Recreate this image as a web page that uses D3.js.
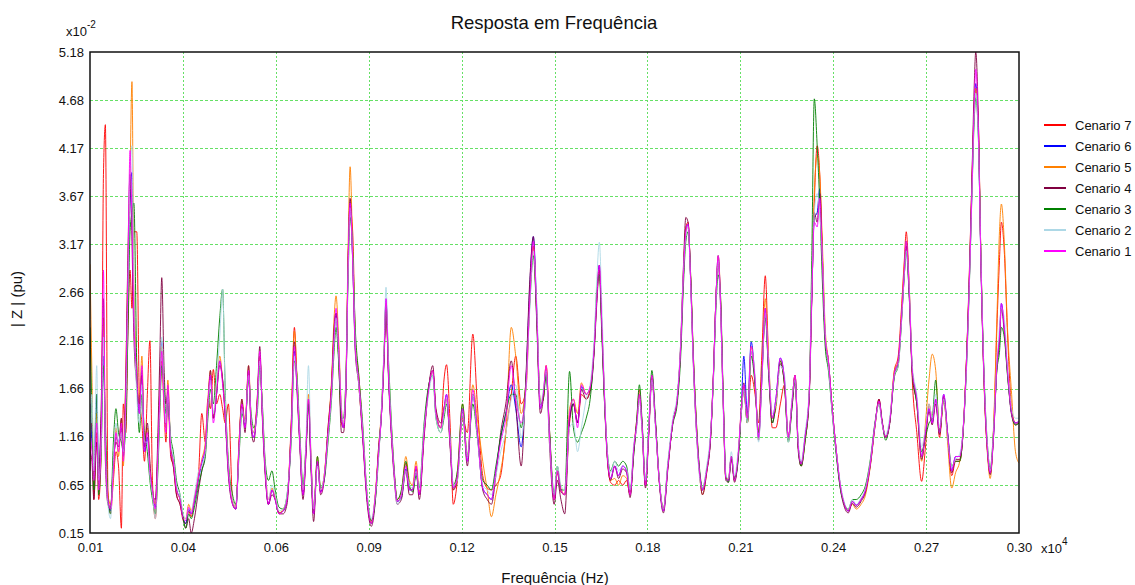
<!DOCTYPE html>
<html>
<head>
<meta charset="utf-8">
<script src="https://cdn.jsdelivr.net/npm/d3@7"></script>
<style>
  html, body { margin: 0; padding: 0; background: #ffffff; }
  svg { display: block; font-family: "Liberation Sans", Arial, sans-serif; }
</style>
</head>
<body>
<svg id="chart" width="1135" height="585"></svg>
<script>
// Frequency axis values (x10^4 Hz)
const freq = [
  0.0100, 0.0106, 0.0112, 0.0121, 0.0127, 0.0135, 0.0142, 0.0148, 0.0156, 0.0164,
  0.0173, 0.0181, 0.0189, 0.0198, 0.0204, 0.0212, 0.0218, 0.0225, 0.0231, 0.0237,
  0.0246, 0.0254, 0.0262, 0.0270, 0.0279, 0.0287, 0.0295, 0.0304, 0.0312, 0.0318,
  0.0324, 0.0331, 0.0337, 0.0343, 0.0352, 0.0360, 0.0370, 0.0381, 0.0391, 0.0399,
  0.0408, 0.0416, 0.0426, 0.0439, 0.0449, 0.0460, 0.0468, 0.0476, 0.0485, 0.0495,
  0.0505, 0.0514, 0.0522, 0.0532, 0.0545, 0.0555, 0.0566, 0.0574, 0.0584, 0.0595,
  0.0603, 0.0611, 0.0622, 0.0630, 0.0638, 0.0647, 0.0657, 0.0668, 0.0678, 0.0690,
  0.0703, 0.0715, 0.0728, 0.0738, 0.0746, 0.0755, 0.0765, 0.0774, 0.0782, 0.0790,
  0.0798, 0.0810, 0.0820, 0.0831, 0.0843, 0.0854, 0.0862, 0.0868, 0.0876, 0.0885,
  0.0891, 0.0899, 0.0906, 0.0912, 0.0920, 0.0928, 0.0939, 0.0951, 0.0964, 0.0978,
  0.0991, 0.1001, 0.1010, 0.1018, 0.1024, 0.1032, 0.1041, 0.1049, 0.1059, 0.1072,
  0.1086, 0.1097, 0.1107, 0.1118, 0.1128, 0.1143, 0.1155, 0.1170, 0.1180, 0.1195,
  0.1205, 0.1213, 0.1224, 0.1234, 0.1247, 0.1263, 0.1278, 0.1295, 0.1309, 0.1326,
  0.1340, 0.1353, 0.1367, 0.1382, 0.1398, 0.1415, 0.1429, 0.1446, 0.1461, 0.1473,
  0.1484, 0.1494, 0.1506, 0.1515, 0.1524, 0.1534, 0.1549, 0.1559, 0.1570, 0.1582,
  0.1597, 0.1609, 0.1622, 0.1634, 0.1649, 0.1663, 0.1674, 0.1682, 0.1690, 0.1698,
  0.1707, 0.1715, 0.1725, 0.1738, 0.1750, 0.1763, 0.1775, 0.1786, 0.1798, 0.1807,
  0.1815, 0.1823, 0.1834, 0.1844, 0.1854, 0.1865, 0.1877, 0.1890, 0.1904, 0.1919,
  0.1933, 0.1944, 0.1952, 0.1960, 0.1967, 0.1975, 0.1983, 0.1994, 0.2004, 0.2012,
  0.2025, 0.2037, 0.2046, 0.2054, 0.2061, 0.2068, 0.2077, 0.2085, 0.2093, 0.2102,
  0.2112, 0.2123, 0.2133, 0.2141, 0.2152, 0.2164, 0.2176, 0.2187, 0.2197, 0.2208,
  0.2218, 0.2230, 0.2241, 0.2255, 0.2268, 0.2280, 0.2291, 0.2301, 0.2311, 0.2320,
  0.2332, 0.2345, 0.2353, 0.2361, 0.2370, 0.2378, 0.2386, 0.2395, 0.2405, 0.2417,
  0.2430, 0.2442, 0.2455, 0.2467, 0.2480, 0.2492, 0.2507, 0.2521, 0.2536, 0.2551,
  0.2563, 0.2573, 0.2584, 0.2596, 0.2611, 0.2623, 0.2634, 0.2642, 0.2648, 0.2657,
  0.2667, 0.2681, 0.2696, 0.2708, 0.2719, 0.2729, 0.2740, 0.2752, 0.2765, 0.2777,
  0.2790, 0.2802, 0.2815, 0.2827, 0.2837, 0.2846, 0.2854, 0.2860, 0.2865, 0.2873,
  0.2881, 0.2891, 0.2902, 0.2910, 0.2921, 0.2931, 0.2939, 0.2945, 0.2954, 0.2964,
  0.2977, 0.2989, 0.3000
];

// |Z| per scenario (x10^-2 pu)
const cenario7 = [
  0.8, 1.3, 0.5, 1.2, 0.5, 1.0, 3.9, 4.42, 0.6, 0.35,
  0.7, 1.0, 0.85, 0.2, 1.5, 1.2, 2.2, 2.9, 2.5, 3.3,
  3.3, 1.6, 1.3, 0.9, 1.6, 2.16, 0.7, 0.3, 0.9, 1.5,
  1.95, 1.45, 1.1, 1.6, 0.95, 0.85, 0.55, 0.45, 0.28, 0.25,
  0.38, 0.32, 0.5, 0.78, 1.4, 1.1, 1.55, 1.45, 1.86, 1.5,
  1.6, 1.45, 1.3, 1.5, 0.5, 0.42, 1.15, 1.5, 1.3, 1.8,
  1.3, 1.2, 1.5, 2.0, 1.4, 0.8, 0.45, 0.6, 0.52, 0.36,
  0.38, 0.5, 1.3, 2.3, 1.75, 1.1, 0.55, 1.0, 1.55, 0.9,
  0.36, 0.9, 0.58, 0.75, 1.2, 1.7, 2.25, 2.45, 2.0, 1.3,
  1.25, 1.7, 3.05, 3.55, 3.3, 2.2, 1.7, 1.2, 0.55, 0.25,
  0.55, 1.0, 1.4, 2.0, 2.5, 1.8, 1.2, 0.8, 0.48, 0.55,
  0.88, 0.62, 0.6, 0.85, 0.55, 1.2, 1.6, 1.85, 1.4, 1.25,
  1.75, 1.91, 1.3, 0.45, 0.7, 1.35, 1.2, 2.23, 1.5, 0.75,
  0.62, 0.6, 0.65, 0.75, 1.2, 1.6, 2.0, 1.5, 1.65, 2.6,
  3.15, 2.5, 1.5, 1.55, 1.9, 1.25, 0.5, 0.78, 0.58, 0.55,
  1.3, 1.5, 1.3, 1.6, 1.55, 1.7, 2.1, 2.65, 2.95, 2.3,
  1.5, 0.95, 0.68, 0.65, 0.7, 0.65, 0.7, 0.55, 1.05, 1.35,
  1.65, 1.3, 0.65, 1.2, 1.78, 1.3, 0.7, 0.4, 0.85, 1.3,
  1.55, 2.1, 2.85, 3.35, 3.4, 2.8, 2.0, 1.2, 0.75, 0.6,
  0.8, 1.15, 1.8, 2.6, 3.0, 2.6, 1.5, 0.72, 0.7, 0.95,
  0.7, 0.95, 1.4, 1.65, 1.3, 1.8, 1.6, 1.3, 2.0, 2.84,
  2.0, 1.25, 1.25, 1.5, 1.7, 1.15, 1.5, 1.8, 1.05, 0.87,
  1.15, 1.6, 2.6, 3.6, 4.2, 3.9, 3.1, 2.2, 1.95, 1.45,
  1.0, 0.65, 0.45, 0.38, 0.48, 0.44, 0.5, 0.6, 0.88, 1.3,
  1.55, 1.3, 1.15, 1.3, 1.85, 2.0, 2.55, 3.0, 3.3, 2.75,
  1.75, 1.2, 0.69, 1.05, 1.5, 1.35, 1.55, 1.15, 1.55, 1.15,
  0.75, 0.9, 0.9, 1.3, 2.05, 3.0, 3.95, 4.6, 4.8, 4.45,
  3.05, 1.75, 1.0, 0.78, 1.25, 2.3, 3.0, 3.4, 3.1, 2.25,
  1.45, 1.3, 1.3
];
const cenario6 = [
  1.5, 1.1, 0.9, 1.6, 0.75, 1.3, 2.0, 1.1, 0.5, 0.38,
  0.85, 1.15, 1.1, 1.25, 0.95, 1.6, 2.7, 3.6, 3.92, 2.5,
  1.75, 1.4, 1.85, 1.0, 1.15, 0.8, 0.6, 0.42, 1.0, 1.65,
  2.15, 1.6, 1.25, 1.65, 1.05, 0.92, 0.62, 0.5, 0.3, 0.25,
  0.4, 0.35, 0.48, 0.72, 0.88, 1.05, 1.5, 1.8, 1.35, 1.6,
  1.95, 1.75, 1.4, 0.8, 0.46, 0.4, 1.1, 1.5, 1.25, 1.85,
  1.3, 1.15, 1.5, 2.0, 1.4, 0.8, 0.45, 0.6, 0.5, 0.36,
  0.38, 0.5, 1.2, 2.05, 1.7, 1.1, 0.55, 1.0, 1.55, 0.9,
  0.35, 0.9, 0.58, 0.72, 1.2, 1.65, 2.2, 2.45, 2.1, 1.4,
  1.25, 1.7, 3.0, 3.6, 3.0, 2.1, 1.75, 1.2, 0.55, 0.25,
  0.55, 1.0, 1.4, 2.0, 2.6, 1.8, 1.2, 0.8, 0.48, 0.52,
  0.82, 0.6, 0.6, 0.82, 0.55, 1.2, 1.62, 1.85, 1.4, 1.25,
  1.45, 1.6, 1.1, 0.62, 0.75, 1.45, 0.9, 1.6, 1.2, 0.62,
  0.55, 0.5, 0.8, 1.15, 1.4, 1.7, 1.45, 1.05, 1.75, 2.75,
  3.25, 2.55, 1.45, 1.6, 1.85, 1.2, 0.5, 0.8, 0.6, 0.55,
  1.35, 1.5, 1.3, 1.68, 1.6, 1.7, 2.1, 2.6, 2.95, 2.3,
  1.5, 0.95, 0.72, 0.85, 0.75, 0.85, 0.8, 0.55, 1.05, 1.3,
  1.6, 1.3, 0.65, 1.2, 1.8, 1.3, 0.7, 0.38, 0.85, 1.3,
  1.55, 2.1, 2.8, 3.3, 3.38, 2.8, 2.0, 1.2, 0.75, 0.6,
  0.8, 1.15, 1.8, 2.6, 3.05, 2.6, 1.5, 0.72, 0.7, 0.95,
  0.7, 0.95, 1.45, 2.0, 1.4, 2.15, 1.75, 1.15, 1.75, 2.5,
  1.9, 1.35, 1.55, 1.98, 1.75, 1.15, 1.5, 1.8, 1.05, 0.87,
  1.15, 1.6, 2.6, 3.45, 3.5, 3.75, 3.05, 2.2, 1.95, 1.45,
  1.0, 0.65, 0.45, 0.38, 0.48, 0.44, 0.5, 0.6, 0.88, 1.3,
  1.53, 1.3, 1.15, 1.3, 1.82, 1.95, 2.45, 2.9, 3.2, 2.7,
  1.85, 1.55, 0.95, 1.2, 1.45, 1.3, 1.55, 1.2, 1.6, 1.2,
  0.8, 0.95, 0.95, 1.3, 2.0, 2.9, 3.85, 4.55, 4.85, 4.35,
  3.0, 1.75, 1.0, 0.78, 1.2, 1.9, 2.2, 2.55, 2.3, 1.85,
  1.4, 1.3, 1.32
];
const cenario5 = [
  2.96, 1.8, 0.6, 1.4, 0.65, 1.3, 2.4, 1.2, 0.55, 0.45,
  0.75, 1.25, 0.95, 1.35, 0.85, 1.9, 2.9, 3.9, 4.87, 2.7,
  1.9, 1.5, 2.0, 1.1, 1.25, 0.85, 0.6, 0.45, 1.05, 1.7,
  2.1, 1.55, 1.25, 1.75, 1.05, 0.9, 0.6, 0.5, 0.32, 0.3,
  0.45, 0.38, 0.52, 0.75, 0.92, 1.1, 1.55, 1.85, 1.35, 1.65,
  2.0, 1.75, 1.45, 0.85, 0.48, 0.42, 1.15, 1.55, 1.3, 1.9,
  1.35, 1.2, 1.55, 2.0, 1.45, 0.85, 0.5, 0.62, 0.52, 0.36,
  0.4, 0.52, 1.25, 2.26, 1.8, 1.15, 0.6, 1.05, 1.6, 0.95,
  0.38, 0.95, 0.6, 0.75, 1.25, 1.75, 2.4, 2.63, 2.2, 1.45,
  1.3, 1.8, 3.2, 3.98, 3.1, 2.2, 1.8, 1.25, 0.58, 0.26,
  0.58, 1.05, 1.45, 2.05, 2.55, 1.85, 1.25, 0.82, 0.5, 0.58,
  0.95, 0.7, 0.65, 0.9, 0.58, 1.2, 1.62, 1.85, 1.42, 1.25,
  1.45, 1.55, 1.1, 0.6, 0.8, 1.5, 0.95, 1.7, 1.35, 0.9,
  0.6, 0.32, 0.55, 0.8, 1.2, 2.3, 2.0, 1.4, 1.75, 2.6,
  3.15, 2.5, 1.5, 1.6, 1.9, 1.2, 0.5, 0.8, 0.62, 0.55,
  1.45, 1.55, 1.4, 1.72, 1.6, 1.7, 2.1, 2.6, 2.9, 2.3,
  1.5, 0.95, 0.7, 0.72, 0.65, 0.75, 0.72, 0.55, 1.05, 1.3,
  1.6, 1.3, 0.65, 1.2, 1.8, 1.3, 0.7, 0.4, 0.85, 1.3,
  1.55, 2.1, 2.8, 3.3, 3.35, 2.85, 2.05, 1.25, 0.72, 0.55,
  0.78, 1.15, 1.8, 2.6, 3.05, 2.65, 1.5, 0.72, 0.72, 0.95,
  0.7, 0.95, 1.45, 1.68, 1.3, 2.1, 1.75, 1.2, 1.8, 2.6,
  2.0, 1.35, 1.45, 1.95, 1.7, 1.15, 1.5, 1.8, 1.05, 0.85,
  1.1, 1.6, 2.7, 3.7, 4.1, 3.9, 3.2, 2.3, 1.95, 1.45,
  1.0, 0.65, 0.45, 0.4, 0.45, 0.4, 0.45, 0.55, 0.85, 1.28,
  1.52, 1.3, 1.15, 1.3, 1.85, 1.95, 2.5, 2.95, 3.2, 2.75,
  1.85, 1.5, 0.9, 1.3, 1.75, 2.02, 1.85, 1.2, 1.55, 1.1,
  0.62, 0.78, 0.9, 1.3, 2.05, 2.9, 3.9, 4.55, 4.8, 4.4,
  3.05, 1.7, 0.95, 0.72, 1.3, 2.4, 3.3, 3.59, 3.2, 2.3,
  1.6, 1.0, 0.88
];
const cenario4 = [
  1.0, 0.9, 0.5, 1.1, 0.7, 1.5, 2.6, 0.9, 0.45, 0.4,
  0.9, 1.1, 1.05, 1.35, 1.0, 1.8, 3.0, 3.9, 3.2, 2.2,
  1.7, 1.5, 1.8, 1.05, 1.3, 0.9, 0.55, 0.5, 1.2, 2.0,
  2.82, 1.9, 1.5, 1.6, 1.0, 0.85, 0.55, 0.45, 0.3, 0.2,
  0.3, 0.15, 0.3, 0.6, 0.8, 1.0, 1.45, 1.85, 1.35, 1.6,
  1.9, 1.75, 1.35, 0.75, 0.45, 0.4, 1.1, 1.55, 1.2, 1.9,
  1.25, 1.1, 1.55, 2.1, 1.35, 0.75, 0.45, 0.55, 0.5, 0.35,
  0.35, 0.45, 1.25, 2.15, 1.65, 1.05, 0.5, 0.95, 1.5, 0.8,
  0.27, 0.9, 0.55, 0.7, 1.25, 1.7, 2.3, 2.45, 2.0, 1.2,
  1.2, 1.65, 3.05, 3.65, 3.0, 2.05, 1.7, 1.15, 0.5, 0.22,
  0.5, 1.05, 1.4, 1.95, 2.5, 1.75, 1.15, 0.75, 0.45, 0.5,
  0.8, 0.55, 0.55, 0.8, 0.5, 1.15, 1.6, 1.9, 1.45, 1.3,
  1.45, 1.55, 1.05, 0.6, 0.72, 1.4, 0.85, 1.6, 1.2, 0.6,
  0.5, 0.45, 0.75, 1.2, 1.5, 1.95, 1.5, 0.85, 1.8, 2.8,
  3.25, 2.4, 1.4, 1.55, 1.85, 1.1, 0.45, 0.7, 0.5, 0.35,
  1.35, 1.5, 1.3, 1.65, 1.55, 1.65, 2.05, 2.55, 2.9, 2.25,
  1.45, 0.92, 0.7, 0.85, 0.72, 0.82, 0.78, 0.52, 1.0, 1.3,
  1.55, 1.25, 0.62, 1.15, 1.75, 1.3, 0.68, 0.36, 0.82, 1.3,
  1.55, 2.15, 2.9, 3.45, 3.4, 2.8, 1.95, 1.15, 0.72, 0.55,
  0.78, 1.12, 1.78, 2.6, 3.0, 2.55, 1.45, 0.7, 0.68, 0.92,
  0.68, 0.92, 1.42, 1.72, 1.32, 2.05, 1.72, 1.12, 1.72, 2.45,
  1.85, 1.3, 1.5, 1.92, 1.7, 1.12, 1.45, 1.75, 1.0, 0.85,
  1.12, 1.55, 2.55, 3.5, 3.4, 3.7, 3.05, 2.2, 1.9, 1.42,
  0.98, 0.62, 0.42, 0.36, 0.46, 0.42, 0.48, 0.58, 0.86, 1.28,
  1.55, 1.32, 1.15, 1.28, 1.8, 1.92, 2.42, 2.85, 3.15, 2.65,
  1.8, 1.5, 0.92, 1.18, 1.42, 1.28, 1.5, 1.18, 1.58, 1.18,
  0.78, 0.92, 0.92, 1.28, 2.05, 2.95, 4.0, 4.8, 5.18, 4.5,
  3.0, 1.72, 0.98, 0.76, 1.18, 1.88, 2.15, 2.5, 2.25, 1.82,
  1.38, 1.28, 1.3
];
const cenario3 = [
  2.3, 1.4, 0.6, 1.6, 0.55, 1.0, 1.9, 1.3, 0.5, 0.35,
  1.1, 1.45, 1.2, 1.1, 1.0, 1.3, 2.2, 3.3, 3.5, 3.6,
  1.9, 1.2, 1.6, 1.2, 1.0, 0.7, 0.5, 0.35, 0.8, 1.4,
  1.9, 1.7, 1.4, 1.5, 1.15, 1.0, 0.7, 0.55, 0.3, 0.2,
  0.35, 0.3, 0.42, 0.65, 0.8, 0.95, 1.35, 1.65, 1.5, 1.9,
  2.4, 2.7, 1.65, 0.9, 0.55, 0.45, 1.0, 1.4, 1.3, 1.75,
  1.4, 1.25, 1.4, 1.9, 1.5, 0.9, 0.7, 0.8, 0.6, 0.42,
  0.4, 0.55, 1.1, 1.95, 1.8, 1.2, 0.65, 1.05, 1.5, 0.85,
  0.38, 0.95, 0.62, 0.7, 1.1, 1.55, 2.05, 2.3, 1.95, 1.35,
  1.35, 1.8, 2.85, 3.45, 3.1, 2.3, 1.8, 1.3, 0.6, 0.28,
  0.5, 0.95, 1.45, 2.05, 2.55, 1.95, 1.3, 0.85, 0.5, 0.6,
  0.9, 0.65, 0.58, 0.75, 0.62, 1.3, 1.65, 1.8, 1.35, 1.2,
  1.35, 1.5, 1.15, 0.65, 0.8, 1.5, 0.95, 1.5, 1.15, 0.7,
  0.65, 0.6, 0.85, 1.15, 1.4, 1.6, 1.6, 1.25, 1.75, 2.55,
  3.05, 2.45, 1.5, 1.55, 1.8, 1.25, 0.55, 0.85, 0.6, 0.6,
  1.84, 1.25, 1.1, 1.2, 1.35, 1.6, 2.1, 2.7, 2.85, 2.2,
  1.45, 1.0, 0.8, 0.9, 0.85, 0.9, 0.85, 0.6, 1.0, 1.35,
  1.7, 1.35, 0.7, 1.25, 1.85, 1.35, 0.72, 0.4, 0.88, 1.28,
  1.5, 2.0, 2.7, 3.2, 3.3, 2.85, 2.05, 1.25, 0.78, 0.62,
  0.82, 1.15, 1.75, 2.5, 2.85, 2.65, 1.55, 0.75, 0.68, 0.95,
  0.72, 0.9, 1.4, 1.65, 1.3, 2.0, 1.7, 1.2, 1.8, 2.4,
  1.85, 1.3, 1.5, 1.95, 1.7, 1.1, 1.45, 1.75, 1.05, 0.85,
  1.1, 1.6, 3.0, 4.69, 4.2, 3.6, 2.8, 2.1, 1.85, 1.4,
  0.95, 0.62, 0.45, 0.4, 0.5, 0.5, 0.55, 0.65, 0.92, 1.32,
  1.5, 1.3, 1.12, 1.3, 1.78, 1.9, 2.4, 2.85, 3.1, 2.65,
  1.85, 1.5, 1.0, 1.15, 1.3, 1.35, 1.75, 1.2, 1.55, 1.2,
  0.85, 0.9, 0.9, 1.28, 1.95, 2.85, 3.8, 4.45, 4.7, 4.3,
  3.05, 1.8, 1.05, 0.82, 1.25, 1.85, 2.04, 2.3, 2.2, 1.8,
  1.4, 1.28, 1.3
];
const cenario2 = [
  1.1, 1.6, 0.8, 1.9, 0.7, 1.1, 2.2, 1.1, 0.45, 0.3,
  0.9, 1.3, 1.1, 1.2, 1.0, 1.5, 2.6, 3.9, 4.2, 2.6,
  1.6, 1.3, 1.7, 1.1, 1.1, 0.75, 0.55, 0.3, 0.9, 1.5,
  2.2, 1.6, 1.3, 1.6, 1.1, 0.95, 0.65, 0.55, 0.35, 0.3,
  0.4, 0.38, 0.55, 0.8, 0.85, 1.0, 1.45, 1.75, 1.4, 1.75,
  2.2, 2.7, 1.6, 0.85, 0.5, 0.42, 1.05, 1.45, 1.3, 1.8,
  1.35, 1.2, 1.45, 1.95, 1.45, 0.85, 0.5, 0.65, 0.55, 0.38,
  0.4, 0.55, 1.15, 2.0, 1.75, 1.15, 0.6, 1.1, 1.9, 0.95,
  0.4, 0.85, 0.6, 0.75, 1.15, 1.6, 2.15, 2.4, 2.05, 1.45,
  1.3, 1.75, 2.9, 3.55, 3.05, 2.15, 1.7, 1.25, 0.6, 0.3,
  0.55, 0.95, 1.45, 2.1, 2.72, 1.9, 1.25, 0.8, 0.45, 0.55,
  0.8, 0.65, 0.62, 0.8, 0.6, 1.25, 1.55, 1.8, 1.35, 1.2,
  1.4, 1.55, 1.15, 0.65, 0.7, 1.4, 0.95, 1.6, 1.15, 0.65,
  0.6, 0.55, 0.75, 1.0, 1.2, 1.55, 1.7, 1.15, 1.65, 2.5,
  3.1, 2.6, 1.5, 1.65, 1.85, 1.15, 0.55, 0.85, 0.65, 0.6,
  1.25, 1.3, 1.0, 1.25, 1.55, 1.75, 2.2, 2.8, 3.19, 2.5,
  1.55, 1.0, 0.78, 0.9, 0.8, 0.85, 0.82, 0.6, 1.1, 1.25,
  1.55, 1.25, 0.7, 1.25, 1.75, 1.25, 0.72, 0.4, 0.9, 1.35,
  1.6, 2.15, 2.85, 3.25, 3.35, 2.75, 1.95, 1.15, 0.7, 0.62,
  0.85, 1.2, 1.75, 2.55, 3.0, 2.55, 1.45, 0.75, 0.72, 1.0,
  0.75, 1.0, 1.4, 1.65, 1.3, 2.05, 1.8, 1.1, 1.7, 2.45,
  1.95, 1.4, 1.5, 1.9, 1.8, 1.1, 1.55, 1.75, 1.1, 0.9,
  1.2, 1.65, 2.7, 3.5, 3.7, 3.5, 3.05, 2.25, 1.9, 1.4,
  1.0, 0.68, 0.47, 0.4, 0.5, 0.45, 0.52, 0.62, 0.9, 1.3,
  1.5, 1.28, 1.18, 1.35, 1.8, 1.9, 2.4, 2.85, 3.1, 2.75,
  1.9, 1.6, 1.05, 1.25, 1.5, 1.35, 1.6, 1.25, 1.55, 1.15,
  0.85, 0.92, 0.98, 1.3, 1.95, 2.85, 3.8, 4.5, 4.75, 4.3,
  3.05, 1.8, 1.05, 0.8, 1.25, 1.95, 2.3, 2.5, 2.4, 1.9,
  1.45, 1.35, 1.35
];
const cenario1 = [
  1.2, 1.0, 0.7, 1.3, 0.6, 1.2, 2.9, 1.0, 0.5, 0.4,
  0.8, 1.2, 1.0, 1.3, 0.9, 1.7, 2.8, 4.15, 3.4, 2.4,
  1.8, 1.4, 1.9, 1.0, 1.2, 0.8, 0.6, 0.4, 1.0, 1.6,
  2.05, 1.5, 1.2, 1.7, 1.0, 0.9, 0.6, 0.5, 0.3, 0.28,
  0.42, 0.35, 0.5, 0.75, 0.9, 1.05, 1.5, 1.8, 1.3, 1.6,
  1.95, 1.7, 1.4, 0.8, 0.45, 0.4, 1.1, 1.5, 1.25, 1.85,
  1.3, 1.15, 1.5, 2.05, 1.4, 0.8, 0.45, 0.6, 0.5, 0.35,
  0.38, 0.5, 1.2, 2.1, 1.7, 1.1, 0.55, 1.0, 1.55, 0.9,
  0.35, 0.9, 0.57, 0.72, 1.2, 1.65, 2.2, 2.5, 2.1, 1.4,
  1.25, 1.7, 3.0, 3.6, 3.0, 2.1, 1.75, 1.2, 0.55, 0.25,
  0.55, 1.0, 1.4, 2.0, 2.6, 1.8, 1.2, 0.8, 0.48, 0.55,
  0.85, 0.6, 0.6, 0.85, 0.55, 1.2, 1.6, 1.85, 1.4, 1.25,
  1.45, 1.6, 1.1, 0.62, 0.75, 1.45, 0.9, 1.65, 1.2, 0.62,
  0.55, 0.5, 0.8, 1.1, 1.35, 1.9, 1.55, 1.3, 1.7, 2.6,
  3.2, 2.5, 1.45, 1.6, 1.9, 1.2, 0.5, 0.8, 0.6, 0.55,
  1.4, 1.55, 1.25, 1.7, 1.6, 1.7, 2.1, 2.6, 2.95, 2.3,
  1.5, 0.95, 0.72, 0.85, 0.75, 0.85, 0.8, 0.55, 1.05, 1.3,
  1.6, 1.3, 0.65, 1.2, 1.8, 1.3, 0.7, 0.38, 0.85, 1.3,
  1.55, 2.1, 2.8, 3.3, 3.38, 2.8, 2.0, 1.2, 0.75, 0.6,
  0.8, 1.15, 1.8, 2.6, 3.05, 2.6, 1.5, 0.72, 0.7, 0.95,
  0.7, 0.95, 1.45, 1.7, 1.35, 2.1, 1.75, 1.15, 1.75, 2.5,
  1.9, 1.35, 1.55, 1.98, 1.75, 1.15, 1.5, 1.8, 1.05, 0.87,
  1.15, 1.6, 2.6, 3.4, 3.35, 3.65, 3.0, 2.2, 1.95, 1.45,
  1.0, 0.65, 0.45, 0.38, 0.48, 0.44, 0.5, 0.6, 0.88, 1.3,
  1.53, 1.3, 1.15, 1.3, 1.82, 1.95, 2.45, 2.9, 3.2, 2.7,
  1.85, 1.55, 0.95, 1.2, 1.45, 1.3, 1.55, 1.2, 1.6, 1.2,
  0.8, 0.95, 0.95, 1.3, 2.0, 2.9, 3.85, 4.6, 5.0, 4.4,
  3.0, 1.75, 1.0, 0.78, 1.2, 1.9, 2.2, 2.55, 2.3, 1.85,
  1.4, 1.3, 1.32
];

const seriesNames = ["Cenario 7", "Cenario 6", "Cenario 5", "Cenario 4", "Cenario 3", "Cenario 2", "Cenario 1"];
const seriesColors = ["#ff0000", "#0000ff", "#ff8000", "#800040", "#008000", "#add8e6", "#ff00ff"];
const seriesValues = [cenario7, cenario6, cenario5, cenario4, cenario3, cenario2, cenario1];

const xTickLabels = ["0.01", "0.04", "0.06", "0.09", "0.12", "0.15", "0.18", "0.21", "0.24", "0.27", "0.30"];
const yTickLabels = ["0.15", "0.65", "1.16", "1.66", "2.16", "2.66", "3.17", "3.67", "4.17", "4.68", "5.18"];

const xMin = 0.01, xMax = 0.30, yMin = 0.15, yMax = 5.18;
const plot = { left: 90, right: 1019, top: 52, bottom: 533 };

const svg = d3.select("#chart");
const x = d3.scaleLinear().domain([xMin, xMax]).range([plot.left, plot.right]);
const y = d3.scaleLinear().domain([yMin, yMax]).range([plot.bottom, plot.top]);

const xTicks = d3.range(xTickLabels.length).map(i => xMin + i * (xMax - xMin) / (xTickLabels.length - 1));
const yTicks = d3.range(yTickLabels.length).map(i => yMin + i * (yMax - yMin) / (yTickLabels.length - 1));

// grid
const grid = svg.append("g");
grid.selectAll("line.h").data(yTicks.slice(1, -1)).join("line")
  .attr("x1", plot.left).attr("x2", plot.right)
  .attr("y1", d => Math.round(y(d)) + 0.5).attr("y2", d => Math.round(y(d)) + 0.5)
  .attr("stroke", "#66e066").attr("stroke-width", 1).attr("stroke-dasharray", "3,2");
grid.selectAll("line.v").data(xTicks.slice(1, -1)).join("line")
  .attr("x1", d => Math.round(x(d)) + 0.5).attr("x2", d => Math.round(x(d)) + 0.5)
  .attr("y1", plot.top).attr("y2", plot.bottom)
  .attr("stroke", "#66e066").attr("stroke-width", 1).attr("stroke-dasharray", "2,2");

// curves
svg.append("clipPath").attr("id", "plotClip").append("rect")
  .attr("x", plot.left).attr("y", plot.top - 1)
  .attr("width", plot.right - plot.left).attr("height", plot.bottom - plot.top + 1);

const line = d3.line().x((d, i) => x(freq[i])).y(d => y(d)).curve(d3.curveMonotoneX);
const curves = svg.append("g").attr("clip-path", "url(#plotClip)");
seriesValues.forEach((vals, k) => {
  curves.append("path")
    .datum(vals.slice(0, freq.length))
    .attr("d", line)
    .attr("fill", "none")
    .attr("stroke", seriesColors[k])
    .attr("stroke-width", 1)
    .attr("stroke-opacity", 0.9);
});

// frame
svg.append("rect")
  .attr("x", plot.left).attr("y", plot.top)
  .attr("width", plot.right - plot.left).attr("height", plot.bottom - plot.top)
  .attr("fill", "none").attr("stroke", "#111").attr("stroke-width", 1.5);

// axes (labels only)
const xAxis = d3.axisBottom(x).tickValues(xTicks).tickFormat((d, i) => xTickLabels[i]).tickSize(0).tickPadding(10);
const gx = svg.append("g").attr("transform", `translate(0,${plot.bottom})`).call(xAxis);
gx.select(".domain").remove();
gx.selectAll("text").attr("font-size", 13).attr("fill", "#111").attr("font-family", "Liberation Sans, Arial, sans-serif");

const yAxis = d3.axisLeft(y).tickValues(yTicks).tickFormat((d, i) => yTickLabels[i]).tickSize(0).tickPadding(6);
const gy = svg.append("g").attr("transform", `translate(${plot.left},0)`).call(yAxis);
gy.select(".domain").remove();
gy.selectAll("text").attr("font-size", 13).attr("fill", "#111").attr("font-family", "Liberation Sans, Arial, sans-serif");

// exponent markers
const ex = svg.append("text").attr("x", 66).attr("y", 36).attr("font-size", 13).attr("fill", "#111");
ex.append("tspan").text("x10");
ex.append("tspan").attr("dy", -8).attr("font-size", 10).text("-2");

const ex4 = svg.append("text").attr("x", 1041).attr("y", 553).attr("font-size", 13).attr("fill", "#111");
ex4.append("tspan").text("x10");
ex4.append("tspan").attr("dy", -8).attr("font-size", 10).text("4");

// titles
svg.append("text").attr("x", 554).attr("y", 29).attr("text-anchor", "middle")
  .attr("font-size", 18.5).attr("fill", "#111").text("Resposta em Frequência");
svg.append("text").attr("x", 555).attr("y", 583).attr("text-anchor", "middle")
  .attr("font-size", 15).attr("fill", "#111").text("Frequência (Hz)");
svg.append("text").attr("transform", "translate(22,299) rotate(-90)").attr("text-anchor", "middle")
  .attr("font-size", 15).attr("fill", "#111").text("| Z | (pu)");

// legend
const legend = svg.append("g");
seriesNames.forEach((name, k) => {
  const ly = 125 + k * 21;
  legend.append("line").attr("x1", 1044).attr("x2", 1066).attr("y1", ly).attr("y2", ly)
    .attr("stroke", seriesColors[k]).attr("stroke-width", 2);
  legend.append("text").attr("x", 1075).attr("y", ly + 5).attr("font-size", 13)
    .attr("fill", "#111").text(name);
});
</script>
</body>
</html>
